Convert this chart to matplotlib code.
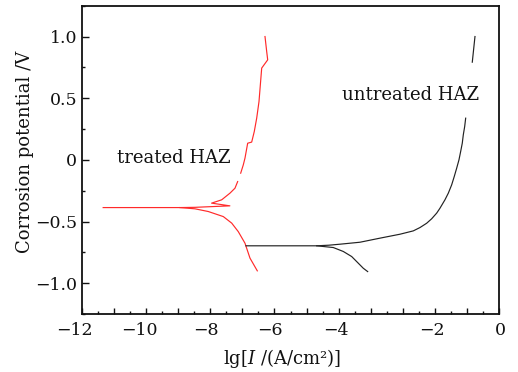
import numpy as np
import matplotlib
matplotlib.use("Agg")
import matplotlib.pyplot as plt
from matplotlib.ticker import MultipleLocator

plt.rcParams['font.family'] = ['DejaVu Serif']
plt.rcParams['mathtext.fontset'] = 'dejavuserif'

# ---- data (lg I in A/cm^2, E in V) ----
treated_x = [-12.34, -9.95, -9.48, -8.39, -8.96, -8.645, -8.387, -8.231, -8.147,
             np.nan, -8.053, -7.972, -7.919, -7.835, -7.710, -7.629, -7.554,
             -7.482, -7.398, -7.211, -7.242, -7.295]
treated_y = [-0.387, -0.387, -0.385, -0.373, -0.351, -0.324, -0.270, -0.230, -0.176,
             np.nan, -0.108, -0.041, 0.014, 0.135, 0.144, 0.230, 0.338,
             0.473, 0.744, 0.811, 0.878, 1.000]
treated_low_x = [-9.95, -9.478, -9.063, -8.595, -8.333, -8.128, -7.919, -7.763, -7.535]
treated_low_y = [-0.387, -0.397, -0.419, -0.460, -0.513, -0.582, -0.676, -0.797, -0.900]

untreated_x = [-7.888, -5.684, -5.30, -4.958, -4.334, -3.711, -3.087, -2.672, -2.464,
               -2.255, -2.10, -1.943, -1.84, -1.685, -1.58, -1.476, -1.395, -1.320,
               -1.248, -1.195, -1.145, -1.113, -1.07, -1.039, np.nan, -0.833, -0.749]
untreated_y = [-0.697, -0.697, -0.692, -0.684, -0.668, -0.635, -0.603, -0.576, -0.549,
               -0.514, -0.478, -0.432, -0.392, -0.324, -0.270, -0.203, -0.135, -0.068,
               0.0, 0.068, 0.135, 0.203, 0.27, 0.338, np.nan, 0.792, 1.000]
untreated_low_x = [-5.684, -5.166, -4.854, -4.593, -4.387, -4.231, -4.094]
untreated_low_y = [-0.697, -0.711, -0.743, -0.784, -0.838, -0.879, -0.906]

xtick_labels = ['\u221212', '\u221210', '\u22128', '\u22126', '\u22124', '\u22122', '0']
xtick_label_pos = [-13.25, -11.22, -9.14, -7.14, -5.09, -2.09, 0.03]
ytick_vals = [-1.0, -0.5, 0.0, 0.5, 1.0]
ytick_labels = ['\u22121.0', '\u22120.5', '0', '0.5', '1.0']

fig = plt.figure(figsize=(5.18, 3.72), dpi=100)
ax = fig.add_axes([82/518, 1-314/372, (499-82)/518, (314-5.7)/372])

red = '#ff2a2a'
blk = '#222222'
ax.plot(treated_x, treated_y, color=red, lw=0.85)
ax.plot(treated_low_x, treated_low_y, color=red, lw=0.85)
ax.plot(untreated_x, untreated_y, color=blk, lw=0.85)
ax.plot(untreated_low_x, untreated_low_y, color=blk, lw=0.85)

ax.set_xlim(-13, 0)
ax.set_ylim(-1.25, 1.25)

ax.xaxis.set_major_locator(MultipleLocator(1.0))
ax.xaxis.set_minor_locator(MultipleLocator(0.5))
ax.set_xticklabels([])
ax.set_yticks(ytick_vals)
ax.set_yticklabels(ytick_labels)
ax.yaxis.set_minor_locator(MultipleLocator(0.25))

ax.tick_params(axis='both', which='both', direction='in', top=False, right=False,
               colors='#111111')
ax.tick_params(axis='x', which='major', length=4.5, width=1.0)
ax.tick_params(axis='x', which='minor', length=2.2, width=1.0)
ax.tick_params(axis='y', which='major', length=5, width=1.0, pad=3.5, labelsize=12.5)
ax.tick_params(axis='y', which='minor', length=2.2, width=1.0)
for s in ax.spines.values():
    s.set_linewidth(1.3)
    s.set_color('#111111')

trans = ax.get_xaxis_transform()
for p, lab in zip(xtick_label_pos, xtick_labels):
    ax.text(p, -0.055, lab, transform=trans, ha='center', va='center',
            fontsize=12.5, color='#111111', clip_on=False)

ax.text(-4.905, 0.487, 'untreated HAZ', fontsize=13, color='#111111',
        ha='left', va='baseline')
ax.text(-11.918, -0.027, 'treated HAZ', fontsize=13, color='#111111',
        ha='left', va='baseline')

fig.text(25/518, 1-152/372, 'Corrosion potential /V', rotation=90, fontsize=13,
         ha='center', va='center', color='#111111')
fig.text(282/518, 1-358/372, 'lg[$I$ /(A/cm\u00b2)]', fontsize=13,
         ha='center', va='center', color='#111111')

fig.savefig('out.png', dpi=100)
